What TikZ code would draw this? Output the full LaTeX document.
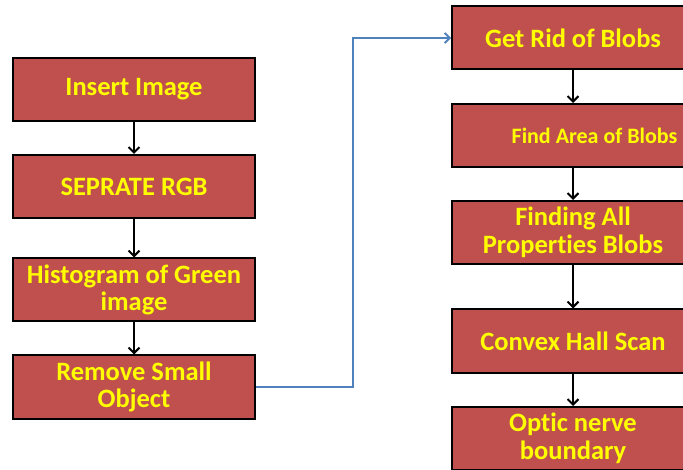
\documentclass[tikz,border=0pt]{standalone}
\usepackage{fontspec}
\setmainfont[RawFeature=-liga]{Carlito}
\usetikzlibrary{arrows.meta}
\definecolor{boxred}{HTML}{C0504D}
\definecolor{txtyellow}{HTML}{FFFF00}
\definecolor{linkblue}{HTML}{4F81BD}
\tikzset{
  stepbox/.style={draw=black, line width=2pt, fill=boxred, minimum width=242pt, minimum height=63pt,
    inner sep=0pt, align=center, text=txtyellow, font=\bfseries\fontsize{26.5}{27.5}\selectfont},
  flow/.style={draw=black, line width=2pt, -{Straight Barb[length=5.5pt,width=11pt,line width=2pt]}},
  link/.style={draw=linkblue, line width=2pt, -{Straight Barb[length=5pt,width=10pt,line width=1.8pt]}}
}
\begin{document}
\begin{tikzpicture}[x=1pt,y=1pt]
\useasboundingbox (0,0) rectangle (683,469);
\clip (0,0) rectangle (683,469);
\fill[white] (0,0) rectangle (683,469);
\node[stepbox] (l1) at (134,379.5) {Insert Image};
\node[stepbox] (l2) at (134,282.5) {SEPRATE RGB};
\node[stepbox] (l3) at (134,179) {Histogram of Green\\image};
\node[stepbox] (l4) at (134,82) {Remove Small\\Object};
\node[stepbox] (r1) at (573,431) {Get Rid of Blobs};
\node[stepbox] (r2) at (573,333.5) {};
\node[text=txtyellow, font=\bfseries\fontsize{22}{24}\selectfont, inner sep=0pt] (r2t) at (594.5,333.5) {Find Area of Blobs};
\node[stepbox] (r3) at (573,236.5) {Finding All\\Properties Blobs};
\node[stepbox] (r4) at (573,128) {Convex Hall Scan};
\node[stepbox] (r5) at (573,30.5) {Optic nerve\\boundary};
\draw[flow] (l1) -- (l2);
\draw[flow] (l2) -- (l3);
\draw[flow] (l3) -- (l4);
\draw[flow] (r1) -- (r2);
\draw[flow] (r2) -- (r3);
\draw[flow] (r3) -- (r4);
\draw[flow] (r4) -- (r5);
\coordinate (bend) at (353,82);
\draw[link] (l4.east) -- (bend) |- (r1.west);
\end{tikzpicture}
\end{document}
